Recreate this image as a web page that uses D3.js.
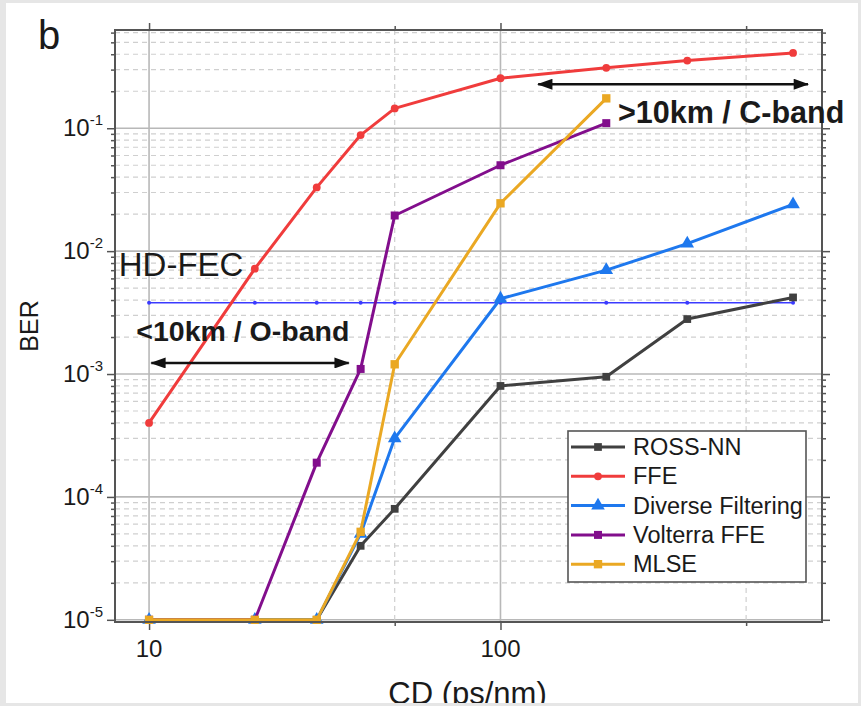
<!DOCTYPE html>
<html>
<head>
<meta charset="utf-8">
<script src="https://cdn.jsdelivr.net/npm/d3@7"></script>
<style>
body { margin: 0; background: #e6e6e6; }
svg { display: block; }
text { font-family: "Liberation Sans", Arial, sans-serif; fill: #1a1a1a; }
</style>
</head>
<body>
<svg id="chart" width="861" height="706"></svg>
<script>
// chromatic dispersion values (ps/nm)
var cdValues = [10, 20, 30, 40, 50, 100, 200, 340, 680];

// BER per equalizer
var berRossNN = [1e-5, 1e-5, 1e-5, 4e-5, 8e-5, 8e-4, 9.5e-4, 2.8e-3, 4.2e-3];
var berFFE = [4e-4, 7.2e-3, 0.033, 0.088, 0.145, 0.255, 0.31, 0.355, 0.41];
var berDiverse = [1e-5, 1e-5, 1e-5, 5e-5, 3e-4, 4.1e-3, 7e-3, 0.0115, 0.024];
var berVolterra = [1e-5, 1e-5, 1.9e-4, 1.1e-3, 0.0195, 0.05, 0.11];
var berMLSE = [1e-5, 1e-5, 1e-5, 5.2e-5, 1.2e-3, 0.0245, 0.175];

var seriesNames = ["ROSS-NN", "FFE", "Diverse Filtering", "Volterra FFE", "MLSE"];
var seriesColors = ["#404040", "#f03c3c", "#1e78ee", "#820e8c", "#eaa823"];
var hdFecLimit = 3.8e-3;

var xMajorTicks = [10, 100];
var xMinorTicks = [50, 500];
var yMajorTicks = [1e-5, 1e-4, 1e-3, 1e-2, 1e-1];
var yTickExponents = ["-5", "-4", "-3", "-2", "-1"];

// annotation anchors in data coordinates
var oBandArrow = [10.15, 37, 1.23e-3];
var cBandArrow = [128, 750, 0.228];
var oBandText = [9.2, 1.85e-3];
var cBandText = [216, 0.11];
var fecText = [8.2, 6.3e-3];

var svgWidth = 861,
	svgHeight = 706,
	plotLeft = 115,
	plotRight = 822,
	plotTop = 30,
	plotBottom = 622;

var svg = d3.select("#chart");
svg.append("rect")
.attr("width", svgWidth)
.attr("height", svgHeight)
.attr("fill", "#ffffff");

var x = d3.scaleLog().domain([8, 822]).range([plotLeft, plotRight]);
var y = d3.scaleLog().domain([9.6e-6, 0.63]).range([plotBottom, plotTop]);

// minor y values straight from the log scale
var yMinorTicks = y.ticks().filter(function (v) {
	var e = Math.log10(v);
	return Math.abs(e - Math.round(e)) > 1e-6;
});

var defs = svg.append("defs");
defs.append("clipPath").attr("id", "plotClip")
.append("rect")
.attr("x", plotLeft)
.attr("y", plotTop)
.attr("width", plotRight - plotLeft)
.attr("height", plotBottom - plotTop);

defs.append("marker")
.attr("id", "arrowHead")
.attr("viewBox", "0 0 14 10")
.attr("refX", 13)
.attr("refY", 5)
.attr("markerUnits", "userSpaceOnUse")
.attr("markerWidth", 16)
.attr("markerHeight", 11)
.attr("orient", "auto-start-reverse")
.append("path")
.attr("d", "M0,0 L14,5 L0,10 Z")
.attr("fill", "#111");

//grid lines
var grid = svg.append("g").attr("clip-path", "url(#plotClip)");
grid.selectAll(".yminor").data(yMinorTicks).enter().append("line")
.attr("x1", plotLeft).attr("x2", plotRight)
.attr("y1", function (d) { return y(d); })
.attr("y2", function (d) { return y(d); })
.attr("stroke", "#cfcfcf")
.attr("stroke-width", 1.2)
.attr("stroke-dasharray", "5,4");
grid.selectAll(".ymajor").data(yMajorTicks).enter().append("line")
.attr("x1", plotLeft).attr("x2", plotRight)
.attr("y1", function (d) { return y(d); })
.attr("y2", function (d) { return y(d); })
.attr("stroke", "#b8b8b8")
.attr("stroke-width", 1.6);
grid.selectAll(".xminor").data(xMinorTicks).enter().append("line")
.attr("y1", plotTop).attr("y2", plotBottom)
.attr("x1", function (d) { return x(d); })
.attr("x2", function (d) { return x(d); })
.attr("stroke", "#cfcfcf")
.attr("stroke-width", 1.2)
.attr("stroke-dasharray", "5,4");
grid.selectAll(".xmajor").data(xMajorTicks).enter().append("line")
.attr("y1", plotTop).attr("y2", plotBottom)
.attr("x1", function (d) { return x(d); })
.attr("x2", function (d) { return x(d); })
.attr("stroke", "#b8b8b8")
.attr("stroke-width", 1.6);

//axes ticks (outward on all four sides)
function styleAxis(g) {
	g.select(".domain").remove();
	g.selectAll("line").attr("stroke", "#555").attr("stroke-width", 1.5);
	g.selectAll("text").remove();
}
svg.append("g").attr("transform", "translate(0," + plotBottom + ")")
.call(d3.axisBottom(x).tickValues(xMajorTicks).tickSize(8)).call(styleAxis);
svg.append("g").attr("transform", "translate(0," + plotBottom + ")")
.call(d3.axisBottom(x).tickValues(xMinorTicks).tickSize(4)).call(styleAxis);
svg.append("g").attr("transform", "translate(0," + plotTop + ")")
.call(d3.axisTop(x).tickValues(xMajorTicks).tickSize(7)).call(styleAxis);
svg.append("g").attr("transform", "translate(0," + plotTop + ")")
.call(d3.axisTop(x).tickValues(xMinorTicks).tickSize(4)).call(styleAxis);
svg.append("g").attr("transform", "translate(" + plotLeft + ",0)")
.call(d3.axisLeft(y).tickValues(yMajorTicks).tickSize(8)).call(styleAxis);
svg.append("g").attr("transform", "translate(" + plotLeft + ",0)")
.call(d3.axisLeft(y).tickValues(yMinorTicks).tickSize(4)).call(styleAxis);
svg.append("g").attr("transform", "translate(" + plotRight + ",0)")
.call(d3.axisRight(y).tickValues(yMajorTicks).tickSize(8)).call(styleAxis);
svg.append("g").attr("transform", "translate(" + plotRight + ",0)")
.call(d3.axisRight(y).tickValues(yMinorTicks).tickSize(4)).call(styleAxis);

//tick labels
svg.selectAll(".xlab").data(xMajorTicks).enter().append("text")
.attr("x", function (d) { return x(d); })
.attr("y", plotBottom + 35)
.attr("text-anchor", "middle")
.attr("font-size", 24)
.text(function (d) { return d; });

var yLabels = svg.selectAll(".ylab").data(yMajorTicks).enter().append("text")
.attr("x", 103)
.attr("y", function (d) { return y(d) + 8; })
.attr("text-anchor", "end")
.attr("font-size", 24);
yLabels.append("tspan").text("10");
yLabels.append("tspan")
.attr("font-size", 15)
.attr("dy", -11)
.text(function (d, i) { return yTickExponents[i]; });

//HD-FEC threshold
svg.append("path")
.datum(cdValues)
.attr("d", d3.line().x(function (d) { return x(d); }).y(y(hdFecLimit)))
.attr("fill", "none")
.attr("stroke", "#3a3aff")
.attr("stroke-width", 1.6);
svg.selectAll(".fecdot").data(cdValues).enter().append("circle")
.attr("cx", function (d) { return x(d); })
.attr("cy", y(hdFecLimit))
.attr("r", 2)
.attr("fill", "#3a3aff");

//series
var seriesValues = [berRossNN, berFFE, berDiverse, berVolterra, berMLSE];
var seriesSymbols = [d3.symbolSquare, d3.symbolCircle, d3.symbolTriangle, d3.symbolSquare, d3.symbolSquare];
var symbolSizes = [60, 48, 80, 64, 70];

var line = d3.line()
.x(function (d) { return x(d.cd); })
.y(function (d) { return y(d.ber); });

for (var i = 0; i < seriesNames.length; i++) {
	var pts = seriesValues[i].map(function (v, j) { return {"cd": cdValues[j], "ber": v}; });
	var g = svg.append("g");
	g.append("path")
	.datum(pts)
	.attr("d", line)
	.attr("fill", "none")
	.attr("stroke", seriesColors[i])
	.attr("stroke-width", 3)
	.attr("stroke-linejoin", "round");
	g.selectAll("path.pt").data(pts).enter().append("path")
	.attr("class", "pt")
	.attr("transform", function (d) { return "translate(" + x(d.cd) + "," + y(d.ber) + ")"; })
	.attr("d", d3.symbol().type(seriesSymbols[i]).size(symbolSizes[i]))
	.attr("fill", seriesColors[i]);
}

//frame
svg.append("rect")
.attr("x", plotLeft)
.attr("y", plotTop)
.attr("width", plotRight - plotLeft)
.attr("height", plotBottom - plotTop)
.attr("fill", "none")
.attr("stroke", "#555")
.attr("stroke-width", 2);

//annotations
svg.append("line")
.attr("x1", x(oBandArrow[0])).attr("x2", x(oBandArrow[1]))
.attr("y1", y(oBandArrow[2])).attr("y2", y(oBandArrow[2]))
.attr("stroke", "#111").attr("stroke-width", 2.5)
.attr("marker-start", "url(#arrowHead)")
.attr("marker-end", "url(#arrowHead)");
svg.append("line")
.attr("x1", x(cBandArrow[0])).attr("x2", x(cBandArrow[1]))
.attr("y1", y(cBandArrow[2])).attr("y2", y(cBandArrow[2]))
.attr("stroke", "#111").attr("stroke-width", 2.5)
.attr("marker-start", "url(#arrowHead)")
.attr("marker-end", "url(#arrowHead)");

svg.append("text")
.attr("x", x(fecText[0])).attr("y", y(fecText[1]))
.attr("font-size", 33)
.text("HD-FEC");
svg.append("text")
.attr("x", x(oBandText[0])).attr("y", y(oBandText[1]))
.attr("font-size", 28.5)
.attr("font-weight", "bold")
.text("<10km / O-band");
svg.append("text")
.attr("x", x(cBandText[0])).attr("y", y(cBandText[1]))
.attr("font-size", 30.5)
.attr("font-weight", "bold")
.text(">10km / C-band");

//legend
var legendX = 568, legendY = 431, legendW = 238, legendH = 151, rowH = 29.3;
var legend = svg.append("g");
legend.append("rect")
.attr("x", legendX).attr("y", legendY)
.attr("width", legendW).attr("height", legendH)
.attr("fill", "#fff")
.attr("stroke", "#555")
.attr("stroke-width", 1.6);
var rows = legend.selectAll(".row").data(seriesNames).enter().append("g")
.attr("transform", function (d, i) { return "translate(" + legendX + "," + (legendY + 16 + i * rowH) + ")"; });
rows.append("line")
.attr("x1", 3).attr("x2", 57)
.attr("stroke", function (d, i) { return seriesColors[i]; })
.attr("stroke-width", 3);
rows.append("path")
.attr("transform", "translate(30,0)")
.attr("d", function (d, i) { return d3.symbol().type(seriesSymbols[i]).size(symbolSizes[i])(); })
.attr("fill", function (d, i) { return seriesColors[i]; });
rows.append("text")
.attr("x", 65)
.attr("y", 8)
.attr("font-size", 23.5)
.text(function (d) { return d; });

//axis titles
svg.append("text")
.attr("transform", "translate(38," + ((plotTop + plotBottom) / 2) + ") rotate(-90)")
.attr("text-anchor", "middle")
.attr("font-size", 25)
.text("BER");
svg.append("text")
.attr("x", (plotLeft + plotRight) / 2 - 1)
.attr("y", 704)
.attr("text-anchor", "middle")
.attr("font-size", 31)
.text("CD (ps/nm)");
svg.append("text")
.attr("x", 38)
.attr("y", 49)
.attr("font-size", 40)
.text("b");

//gray picture border
var border = [[0, 0, svgWidth, 3], [0, 0, 6, svgHeight], [svgWidth - 3, 0, 3, svgHeight], [0, svgHeight - 3, svgWidth, 3]];
svg.selectAll(".border").data(border).enter().append("rect")
.attr("x", function (d) { return d[0]; })
.attr("y", function (d) { return d[1]; })
.attr("width", function (d) { return d[2]; })
.attr("height", function (d) { return d[3]; })
.attr("fill", "#e6e6e6");
</script>
</body>
</html>
